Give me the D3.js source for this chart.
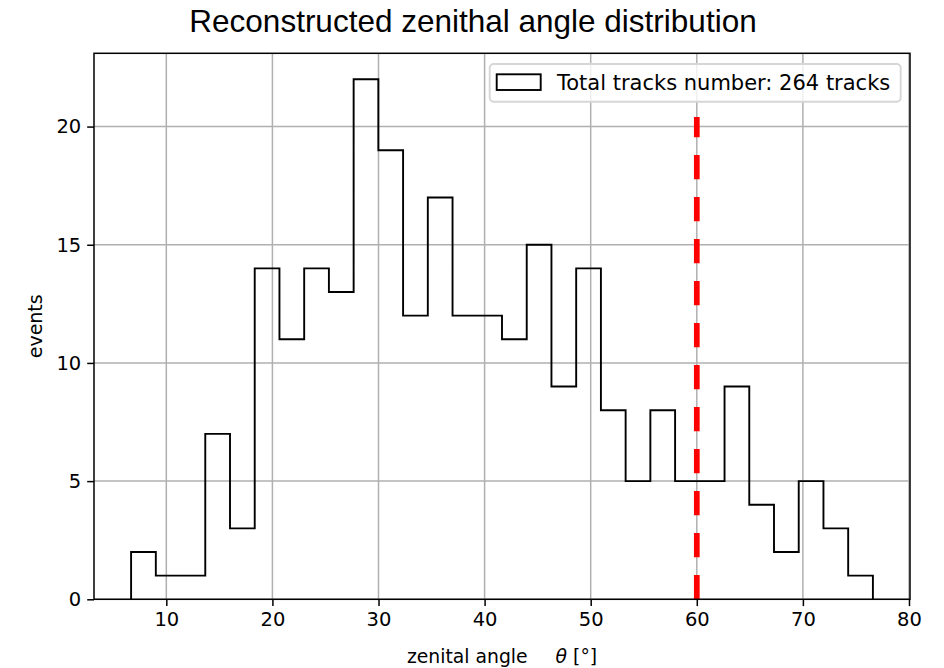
<!DOCTYPE html>
<html>
<head>
<meta charset="utf-8">
<script src="https://cdn.jsdelivr.net/npm/d3@7"></script>
<style>
  html, body { margin: 0; padding: 0; background: #fff; }
  svg { display: block; }
  text { fill: #000; }
</style>
</head>
<body>
<svg id="chart" width="944" height="668"></svg>
<script>
// Histogram of reconstructed zenith angles (30 bins)
const binEdges = [6.68, 9.011, 11.341, 13.672, 16.003, 18.333, 20.664, 22.995, 25.325, 27.656,
  29.987, 32.317, 34.648, 36.979, 39.309, 41.64, 43.971, 46.301, 48.632, 50.963,
  53.293, 55.624, 57.955, 60.285, 62.616, 64.947, 67.277, 69.608, 71.939, 74.269, 76.6];
const counts = [2, 1, 1, 7, 3, 14, 11, 14, 13, 22, 19, 12, 17, 12, 12, 11, 15, 9, 14, 8,
  5, 8, 5, 5, 9, 4, 2, 5, 3, 1];
const xTicks = [10, 20, 30, 40, 50, 60, 70, 80];
const yTicks = [0, 5, 10, 15, 20];
const cutAngle = 60;
const cutTop = 20.4;
const totalTracks = 264;

const titleText = "Reconstructed zenithal angle distribution";
const legendText = `Total tracks number: ${totalTracks} tracks`;

const svg = d3.select("#chart");
const plot = { left: 94, right: 910, top: 53.3, bottom: 599.3 };

const lo = binEdges[0], hi = binEdges[binEdges.length - 1];
const pad = 0.05 * (hi - lo);
const x = d3.scaleLinear().domain([lo - pad, hi + pad]).range([plot.left, plot.right]);
const yMax = d3.max(counts) * 1.05;
const y = d3.scaleLinear().domain([0, yMax]).range([plot.bottom, plot.top]);

const tickFont = "'DejaVu Sans', sans-serif";

// grid
const grid = svg.append("g").attr("stroke", "#b0b0b0").attr("stroke-width", 1.5);
grid.selectAll("line.vx").data(xTicks).join("line")
  .attr("x1", d => x(d)).attr("x2", d => x(d))
  .attr("y1", plot.top).attr("y2", plot.bottom);
grid.selectAll("line.hy").data(yTicks).join("line")
  .attr("x1", plot.left).attr("x2", plot.right)
  .attr("y1", d => y(d)).attr("y2", d => y(d));

// step outline of histogram
const pts = [[binEdges[0], 0]];
counts.forEach((c, i) => { pts.push([binEdges[i], c]); pts.push([binEdges[i + 1], c]); });
pts.push([hi, 0]);
svg.append("path")
  .attr("d", d3.line().x(d => x(d[0])).y(d => y(d[1]))(pts))
  .attr("fill", "none").attr("stroke", "#000").attr("stroke-width", 1.9)
  .attr("stroke-linejoin", "miter");

// cut line, dashes start from the bottom
svg.append("line")
  .attr("x1", x(cutAngle)).attr("x2", x(cutAngle))
  .attr("y1", y(0)).attr("y2", y(cutTop))
  .attr("stroke", "#ff0000").attr("stroke-width", 5.7)
  .attr("stroke-dasharray", "24.3,17.7");

// axes
const xAxis = d3.axisBottom(x).tickValues(xTicks).tickSize(6.8).tickPadding(6).tickFormat(d3.format("d"));
const yAxis = d3.axisLeft(y).tickValues(yTicks).tickSize(6.8).tickPadding(6).tickFormat(d3.format("d"));
const gx = svg.append("g").attr("transform", `translate(0,${plot.bottom})`).call(xAxis);
const gy = svg.append("g").attr("transform", `translate(${plot.left},0)`).call(yAxis);
[gx, gy].forEach(g => {
  g.select(".domain").remove();
  g.selectAll(".tick line").attr("stroke", "#000").attr("stroke-width", 1.5);
  g.selectAll(".tick text").attr("font-family", tickFont).attr("font-size", 19.5).attr("fill", "#000");
});

// frame
svg.append("rect")
  .attr("x", plot.left).attr("y", plot.top)
  .attr("width", plot.right - plot.left).attr("height", plot.bottom - plot.top)
  .attr("fill", "none").attr("stroke", "#000").attr("stroke-width", 1.5);

// legend
const lg = svg.append("g");
const lgW = 411, lgH = 37.7;
const lgX = plot.right - 9.3 - lgW, lgY = plot.top + 10.7;
lg.append("rect").attr("x", lgX).attr("y", lgY).attr("width", lgW).attr("height", lgH)
  .attr("rx", 4).attr("fill", "#fff").attr("fill-opacity", 0.8)
  .attr("stroke", "#d6d6d6").attr("stroke-width", 1.9);
lg.append("rect").attr("x", lgX + 7).attr("y", lgY + 10.3).attr("width", 44).attr("height", 15.7)
  .attr("fill", "none").attr("stroke", "#000").attr("stroke-width", 1.9);
lg.append("text").attr("x", lgX + 67.3).attr("y", lgY + 25.7)
  .attr("font-family", tickFont).attr("font-size", 21).text(legendText);

// title
svg.append("text").attr("x", 473).attr("y", 31.7).attr("text-anchor", "middle")
  .attr("font-family", "'Liberation Sans', Arial, sans-serif").attr("font-size", 31.5)
  .text(titleText);

// axis labels
const xl = svg.append("text").attr("x", (plot.left + plot.right) / 2).attr("y", 663)
  .attr("text-anchor", "middle").attr("font-family", tickFont).attr("font-size", 18.8);
xl.append("tspan").text("zenital angle");
xl.append("tspan").attr("dx", 28).attr("font-style", "italic").text("θ");
xl.append("tspan").attr("dx", 6).text("[°]");

svg.append("text").attr("transform", `translate(41.5,${(plot.top + plot.bottom) / 2}) rotate(-90)`)
  .attr("text-anchor", "middle").attr("font-family", tickFont).attr("font-size", 19)
  .text("events");
</script>
</body>
</html>
